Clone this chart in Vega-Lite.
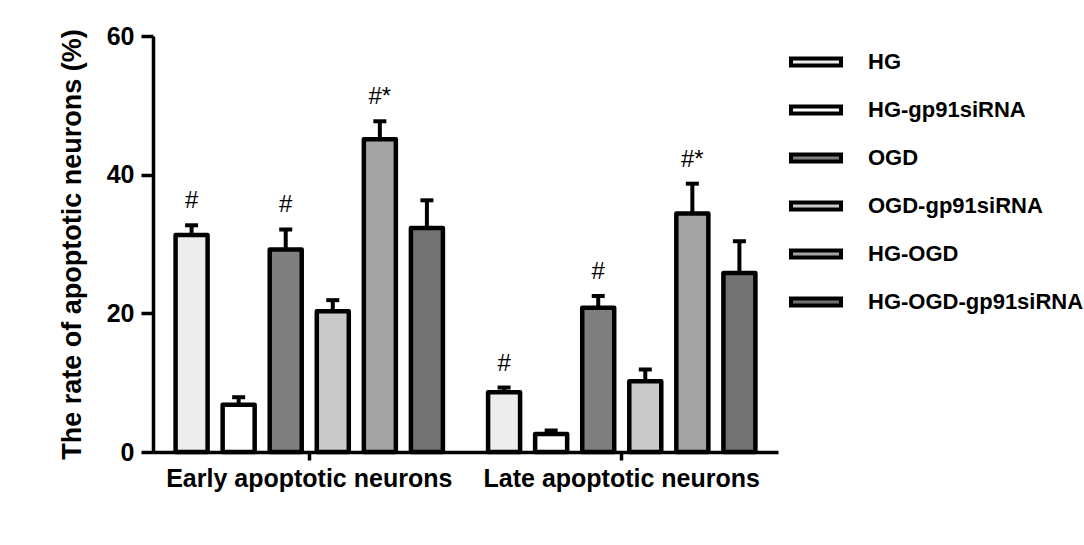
{
  "$schema": "https://vega.github.io/schema/vega-lite/v6.json",
  "autosize": "none",
  "width": 625,
  "height": 416,
  "padding": {"left": 153, "top": 36, "right": 306, "bottom": 93},
  "background": "white",
  "config": {
    "font": "Liberation Sans",
    "view": {"stroke": null},
    "legend": {
      "symbolType": "M-1.39,-0.2H1.39V0.2H-1.39Z",
      "symbolSize": 1296,
      "symbolStrokeColor": "black",
      "symbolStrokeWidth": 4,
      "labelFont": "Liberation Sans",
      "labelFontSize": 22,
      "labelFontWeight": "bold",
      "labelColor": "black",
      "labelOffset": 32,
      "labelLimit": 0,
      "rowPadding": 16,
      "padding": 0
    }
  },
  "data": {
    "values": [
      {"group": "Early apoptotic neurons", "treatment": "HG", "mean": 31.3, "upper": 32.7, "mark": "#"},
      {"group": "Early apoptotic neurons", "treatment": "HG-gp91siRNA", "mean": 6.8, "upper": 7.9, "mark": ""},
      {"group": "Early apoptotic neurons", "treatment": "OGD", "mean": 29.2, "upper": 32.1, "mark": "#"},
      {"group": "Early apoptotic neurons", "treatment": "OGD-gp91siRNA", "mean": 20.3, "upper": 21.9, "mark": ""},
      {"group": "Early apoptotic neurons", "treatment": "HG-OGD", "mean": 45.1, "upper": 47.7, "mark": "#*"},
      {"group": "Early apoptotic neurons", "treatment": "HG-OGD-gp91siRNA", "mean": 32.3, "upper": 36.3, "mark": ""},
      {"group": "Late apoptotic neurons", "treatment": "HG", "mean": 8.6, "upper": 9.3, "mark": "#"},
      {"group": "Late apoptotic neurons", "treatment": "HG-gp91siRNA", "mean": 2.6, "upper": 3.1, "mark": ""},
      {"group": "Late apoptotic neurons", "treatment": "OGD", "mean": 20.8, "upper": 22.5, "mark": "#"},
      {"group": "Late apoptotic neurons", "treatment": "OGD-gp91siRNA", "mean": 10.2, "upper": 11.9, "mark": ""},
      {"group": "Late apoptotic neurons", "treatment": "HG-OGD", "mean": 34.4, "upper": 38.7, "mark": "#*"},
      {"group": "Late apoptotic neurons", "treatment": "HG-OGD-gp91siRNA", "mean": 25.8, "upper": 30.4, "mark": ""}
    ]
  },
  "encoding": {
    "x": {
      "field": "group",
      "type": "nominal",
      "sort": ["Early apoptotic neurons", "Late apoptotic neurons"],
      "scale": {"paddingInner": 0, "paddingOuter": 0},
      "axis": {
        "title": null,
        "labelAngle": 0,
        "labelLimit": 0,
        "labelFontSize": 25,
        "labelFontWeight": "bold",
        "labelColor": "black",
        "labelPadding": 6,
        "domainColor": "black",
        "domainWidth": 3.5,
        "tickColor": "black",
        "tickWidth": 3.5,
        "tickSize": 8
      }
    },
    "xOffset": {
      "field": "treatment",
      "type": "nominal",
      "sort": ["HG", "HG-gp91siRNA", "OGD", "OGD-gp91siRNA", "HG-OGD", "HG-OGD-gp91siRNA"],
      "scale": {"paddingInner": 0.32, "paddingOuter": 0.48}
    }
  },
  "layer": [
    {
      "mark": {"type": "rule", "color": "black", "strokeWidth": 4},
      "encoding": {
        "y": {"field": "mean", "type": "quantitative"},
        "y2": {"field": "upper"}
      }
    },
    {
      "mark": {"type": "bar", "stroke": "black", "strokeWidth": 4.5, "strokeJoin": "round"},
      "encoding": {
        "y": {
          "field": "mean",
          "type": "quantitative",
          "scale": {"domain": [0, 60], "nice": false},
          "axis": {
            "values": [0, 20, 40, 60],
            "grid": false,
            "title": "The rate of apoptotic neurons (%)",
            "titleFontSize": 27,
            "titleFontWeight": "bold",
            "titleColor": "black",
            "titlePadding": 20,
            "labelFontSize": 25,
            "labelFontWeight": "bold",
            "labelColor": "black",
            "labelPadding": 7,
            "domainColor": "black",
            "domainWidth": 3.5,
            "tickColor": "black",
            "tickWidth": 3.5,
            "tickSize": 12
          }
        },
        "fill": {
          "field": "treatment",
          "type": "nominal",
          "scale": {
            "domain": ["HG", "HG-gp91siRNA", "OGD", "OGD-gp91siRNA", "HG-OGD", "HG-OGD-gp91siRNA"],
            "range": ["#ececec", "#ffffff", "#7f7f7f", "#cacaca", "#a4a4a4", "#727272"]
          },
          "legend": {"title": null, "orient": "none", "legendX": 643, "legendY": 6}
        }
      }
    },
    {
      "mark": {"type": "tick", "color": "black", "size": 13, "thickness": 4, "opacity": 1},
      "encoding": {
        "y": {"field": "upper", "type": "quantitative"}
      }
    },
    {
      "mark": {"type": "text", "fontSize": 24, "color": "black", "dy": -24, "baseline": "middle", "font": "Liberation Sans"},
      "encoding": {
        "y": {"field": "upper", "type": "quantitative"},
        "text": {"field": "mark"}
      }
    }
  ]
}
